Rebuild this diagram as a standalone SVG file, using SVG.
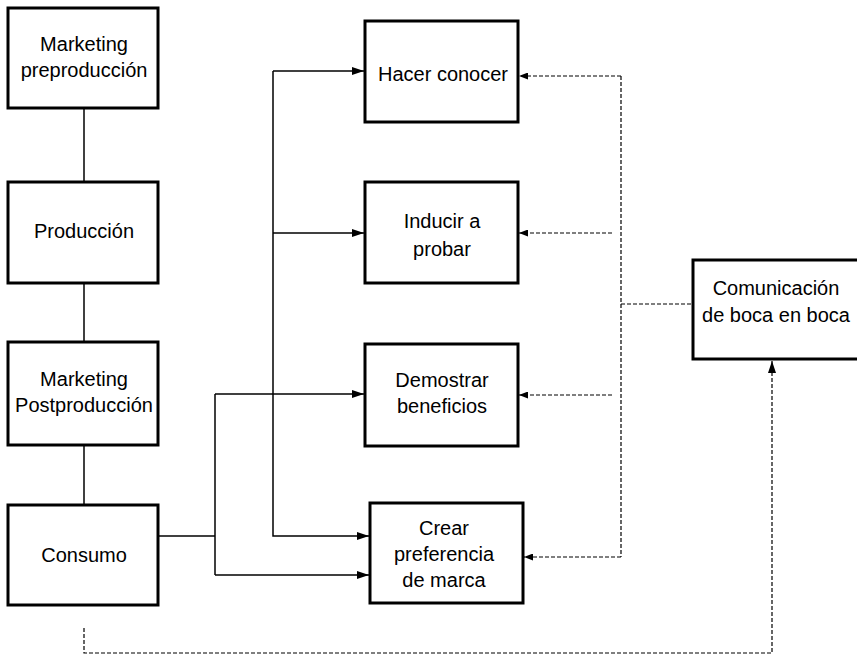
<svg xmlns="http://www.w3.org/2000/svg" width="857" height="659" viewBox="0 0 857 659">
<style>
.box{fill:#fff;stroke:#000;stroke-width:3}
.t{font-family:"Liberation Sans",Arial,sans-serif;font-size:20px;fill:#000;text-anchor:middle}
.c{fill:none;stroke:#000;stroke-width:1.5}
.d{fill:none;stroke:#000;stroke-width:1.2;stroke-dasharray:4 2}
</style>
<defs>
<marker id="a" markerWidth="12" markerHeight="8" refX="12" refY="4" orient="auto" markerUnits="userSpaceOnUse">
<path d="M0,0 L12,4 L0,8 Z" fill="#000"/>
</marker>
<marker id="b" markerWidth="9" markerHeight="7" refX="9" refY="3.5" orient="auto" markerUnits="userSpaceOnUse">
<path d="M0,0 L9,3.5 L0,7 Z" fill="#000"/>
</marker>
</defs>
<g id="connectors">
<path class="c" d="M84,108 V182"/>
<path class="c" d="M84,283 V342"/>
<path class="c" d="M84,445 V505"/>
<path class="c" d="M158,536 H215"/>
<path class="c" d="M215,394 V575"/>
<path class="c" d="M215,394 H364" marker-end="url(#a)"/>
<path class="c" d="M215,575 H369" marker-end="url(#a)"/>
<path class="c" d="M273,71 V536 H369" marker-end="url(#a)"/>
<path class="c" d="M273,71 H364" marker-end="url(#a)"/>
<path class="c" d="M273,233 H364" marker-end="url(#a)"/>
<path class="d" d="M621,76 V557"/>
<path class="d" d="M621,76 H519" marker-end="url(#b)"/>
<path class="d" d="M612,233 H519" marker-end="url(#b)"/>
<path class="d" d="M612,395 H519" marker-end="url(#b)"/>
<path class="d" d="M621,557 H524" marker-end="url(#b)"/>
<path class="d" d="M621,304 H693"/>
<path class="d" d="M84,628 V653 H772 V361" marker-end="url(#a)"/>
</g>
<g id="n1"><rect class="box" x="8" y="8" width="150" height="100"/><text class="t" x="84" y="51">Marketing</text><text class="t" x="84" y="77">preproducción</text></g>
<g id="n2"><rect class="box" x="8" y="182" width="150" height="101"/><text class="t" x="84" y="238">Producción</text></g>
<g id="n3"><rect class="box" x="8" y="342" width="150" height="103"/><text class="t" x="84" y="386">Marketing</text><text class="t" x="84" y="412">Postproducción</text></g>
<g id="n4"><rect class="box" x="8" y="505" width="150" height="100"/><text class="t" x="84" y="562">Consumo</text></g>
<g id="n5"><rect class="box" x="365" y="21" width="153" height="101"/><text class="t" x="443" y="81">Hacer conocer</text></g>
<g id="n6"><rect class="box" x="365" y="182" width="153" height="101"/><text class="t" x="442" y="228">Inducir a</text><text class="t" x="442" y="256">probar</text></g>
<g id="n7"><rect class="box" x="365" y="344" width="153" height="102"/><text class="t" x="442" y="387">Demostrar</text><text class="t" x="442" y="413">beneficios</text></g>
<g id="n8"><rect class="box" x="370" y="503" width="153" height="100"/><text class="t" x="444" y="535">Crear</text><text class="t" x="444" y="561">preferencia</text><text class="t" x="444" y="587">de marca</text></g>
<g id="n9"><rect class="box" x="693" y="260" width="170" height="99"/><text class="t" x="776" y="295">Comunicación</text><text class="t" x="776" y="322">de boca en boca</text></g>
</svg>
